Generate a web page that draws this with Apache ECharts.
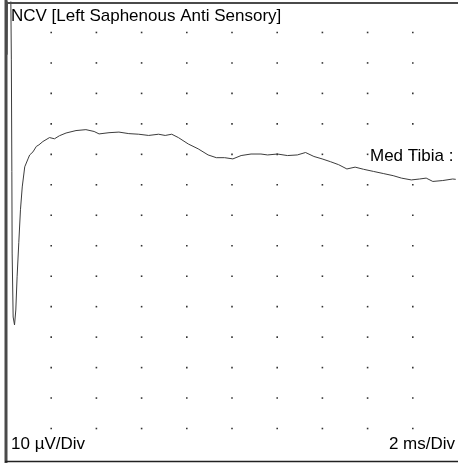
<!DOCTYPE html>
<html>
<head>
<meta charset="utf-8">
<script src="https://cdn.jsdelivr.net/npm/echarts@6/dist/echarts.min.js"></script>
<style>
html,body{margin:0;padding:0;background:#fff;}
#chart{width:458px;height:463px;}
</style>
</head>
<body>
<div id="chart"></div>
<script>
// Trace: time (ms) and amplitude (µV)
var timeMs = [0.05,0.066,0.206,0.237,0.259,0.272,0.316,0.377,0.434,0.491,0.566,0.640,0.719,0.829,0.974,1.048,1.193,1.342,1.456,1.632,1.926,2.145,2.364,2.658,3.097,3.535,3.899,4.118,4.557,4.996,5.434,5.873,6.311,6.750,7.044,7.333,7.627,8.065,8.504,8.943,9.307,9.675,10.039,10.403,10.842,11.281,11.575,12.013,12.452,12.890,13.254,13.623,13.987,14.351,14.719,15.084,15.448,15.816,16.255,16.693,17.132,17.496,17.934,18.298,18.592,18.886,19.325,19.763,19.9];
var amplitudeUv = [32.7,57.3,57.3,31.0,-5.7,-32.4,-53.4,-56.0,-51.1,-40.2,-29.0,-18.2,-10.7,-4.1,-1.5,-0.2,0.8,2.6,3.1,4.2,5.5,5.1,6.1,7.0,7.8,8.1,7.5,6.7,7.1,7.3,6.8,6.6,6.2,6.6,6.2,6.6,5.5,3.4,1.8,-0.2,-1.1,-1.1,-1.5,-0.4,0.1,0.1,-0.2,0.1,-0.4,-0.2,0.6,-0.7,-1.5,-2.4,-3.4,-4.8,-4.2,-4.9,-5.6,-6.3,-7.0,-7.8,-8.4,-8.1,-7.8,-8.9,-8.6,-8.1,-8.2];

// Division ticks
var xTicks = [2,4,6,8,10,12,14,16,18];
var yTicks = [40,30,20,10,0,-10,-20,-30,-40,-50,-60,-70,-80,-90];

// Labels
var titleText = 'NCV [Left Saphenous Anti Sensory]';
var traceLabel = 'Med Tibia :';
var ampScaleText = '10 µV/Div';
var timeScaleText = '2 ms/Div';

var traceData = timeMs.map(function(t, i){ return [t, amplitudeUv[i]]; });
var dotData = [];
xTicks.forEach(function(x){ yTicks.forEach(function(y){ dotData.push([x, y]); }); });

var FONT = '17px "Liberation Sans", Arial, sans-serif';
var chart = echarts.init(document.getElementById('chart'), null, {renderer:'canvas'});
chart.setOption({
  animation: false,
  backgroundColor: '#ffffff',
  grid: {left: 6, top: 2, width: 456, height: 457, containLabel: false},
  xAxis: {type:'value', min:0, max:20, interval:2, show:true,
    axisLine:{show:false}, axisTick:{show:false}, axisLabel:{show:false}, splitLine:{show:false}},
  yAxis: {type:'value', min:-100, max:50, interval:10, show:true,
    axisLine:{show:false}, axisTick:{show:false}, axisLabel:{show:false}, splitLine:{show:false}},
  series: [
    {type:'scatter', data: dotData, symbol:'rect', symbolSize:1.6,
     itemStyle:{color:'#000'}, silent:true, z:1},
    {type:'line', data: traceData, symbol:'none', clip:true, smooth:false,
     lineStyle:{color:'#3c3c3c', width:1}, silent:true, z:3}
  ],
  graphic: [
    {type:'line', shape:{x1:6, y1:0, x2:6, y2:463}, style:{stroke:'#4a4a4a', lineWidth:3}, z:10},
    {type:'line', shape:{x1:5, y1:3, x2:458, y2:3}, style:{stroke:'#4a4a4a', lineWidth:2}, z:10},
    {type:'line', shape:{x1:5, y1:461.5, x2:458, y2:461.5}, style:{stroke:'#222', lineWidth:1.5}, z:10},
    {type:'text', x:11, y:16.8, style:{text:titleText, font:FONT, fill:'#000', verticalAlign:'middle', align:'left'}, z:11},
    {type:'text', x:370, y:156.8, style:{text:traceLabel, font:FONT, fill:'#000', verticalAlign:'middle', align:'left'}, z:11},
    {type:'text', x:11, y:444.8, style:{text:ampScaleText, font:FONT, fill:'#000', verticalAlign:'middle', align:'left'}, z:11},
    {type:'text', x:455, y:444.8, style:{text:timeScaleText, font:FONT, fill:'#000', verticalAlign:'middle', align:'right'}, z:11}
  ]
});
</script>
</body>
</html>
